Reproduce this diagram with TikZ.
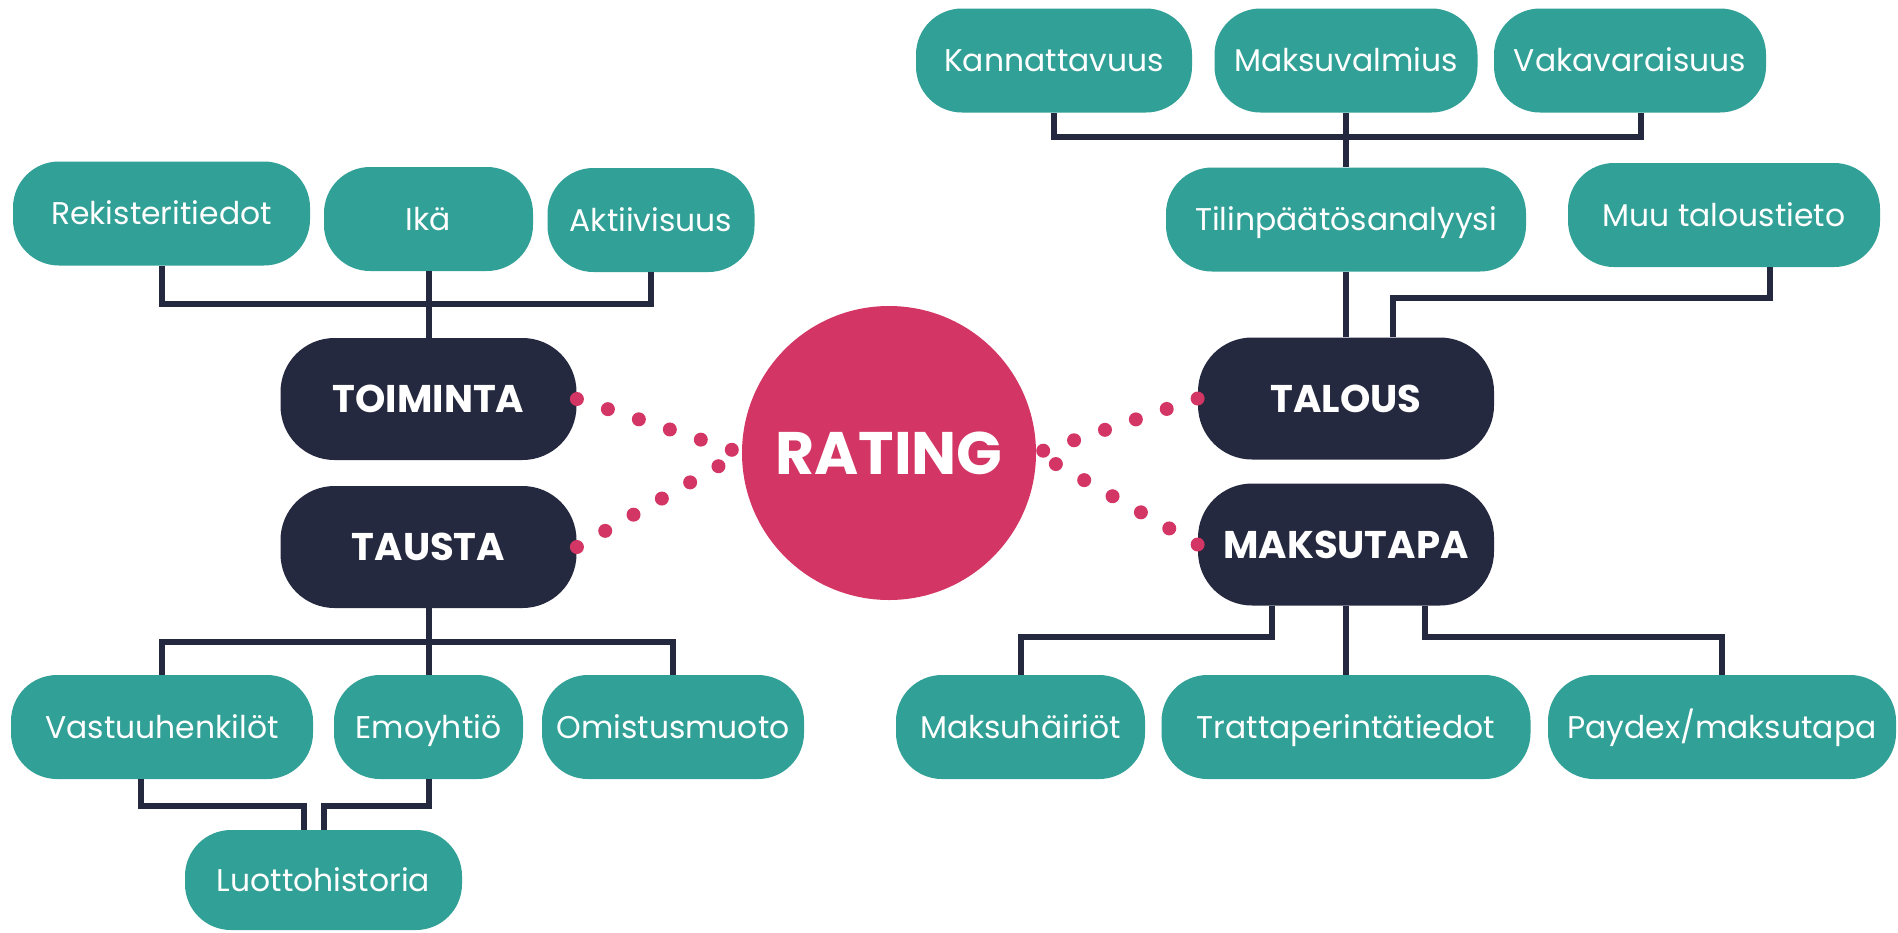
\documentclass[tikz,border=0pt]{standalone}
\usepackage{fontspec}
\setmainfont{Poppins}
\definecolor{tealbox}{RGB}{49,160,150}
\definecolor{navybox}{RGB}{37,41,64}
\definecolor{pinkdot}{RGB}{211,54,100}

\begin{document}
\begin{tikzpicture}[x=0.5pt, y=-0.5pt,
    leaf/.style={rectangle, fill=tealbox, text=white, rounded corners=23pt, inner sep=0pt,
        minimum height=52pt, text height=11pt, text depth=0pt, font=\fontsize{15.7}{18}\selectfont},
    hub/.style={rectangle, fill=navybox, text=white, rounded corners=27pt, inner sep=0pt,
        minimum width=148pt, minimum height=61pt, text height=13.5pt, text depth=0pt,
        font=\bfseries\fontsize{19.3}{22}\selectfont},
    link/.style={draw=navybox, line width=3pt},
    pinkdots/.style={draw=pinkdot, line width=7pt, line cap=round, dash pattern=on 0pt off 16.3pt}]
    \useasboundingbox (0,0) rectangle (1898,932);
    \node[leaf, minimum width=148.5pt] (reg) at (161.5,213.5) {Rekisteritiedot};
    \node[leaf, minimum width=104.5pt] (ika) at (428.5,219) {Ikä};
    \node[leaf, minimum width=103.5pt] (akt) at (651,220) {Aktiivisuus};
    \node[hub] (toim) at (428.5,399) {TOIMINTA};
    \node[hub] (taus) at (428.5,547) {TAUSTA};
    \node[leaf, minimum width=151pt] (vast) at (162,727) {Vastuuhenkilöt};
    \node[leaf, minimum width=94.5pt] (emo) at (428.5,727) {Emoyhtiö};
    \node[leaf, minimum width=131pt] (omis) at (673,727) {Omistusmuoto};
    \node[leaf, minimum width=138.5pt, minimum height=50pt] (luot) at (323.5,880) {Luottohistoria};
    \node[circle, fill=pinkdot, text=white, minimum size=147pt, inner sep=0pt, text height=21pt, text depth=0pt,
        font=\bfseries\fontsize{30}{34}\selectfont] (rating) at (889,453) {RATING};
    \node[leaf, minimum width=138pt] (kann) at (1054,60.5) {Kannattavuus};
    \node[leaf, minimum width=131.5pt] (maks) at (1346,60.5) {Maksuvalmius};
    \node[leaf, minimum width=136pt] (vaka) at (1630,60.5) {Vakavaraisuus};
    \node[leaf, minimum width=180pt] (tilin) at (1346,219.5) {Tilinpäätösanalyysi};
    \node[leaf, minimum width=156pt] (muu) at (1724,215) {Muu taloustieto};
    \node[hub] (talous) at (1346,398.5) {TALOUS};
    \node[hub] (maksutapa) at (1346,544.5) {MAKSUTAPA};
    \node[leaf, minimum width=124.5pt] (mhair) at (1020.5,727) {Maksuhäiriöt};
    \node[leaf, minimum width=184.5pt] (tratta) at (1346,727) {Trattaperintätiedot};
    \node[leaf, minimum width=174pt] (paydex) at (1722,727) {Paydex/maksutapa};
    \draw[link] (reg.south) -- ++(0,38) -| (akt.south);
    \draw[link] (ika) -- (toim);
    \draw[link] (taus) -- (emo);
    \draw[link] (vast.north) -- ++(0,-33) -| (omis.north);
    \draw[link] (vast.south) ++(-21,0) -- ++(0,27) -| ([xshift=-10pt]luot.north);
    \draw[link] (emo.south) -- ++(0,27) -| (luot.north);
    \draw[link] (kann.south) -- ++(0,24) -| ([xshift=5.5pt]vaka.south);
    \draw[link] (maks) -- (tilin);
    \draw[link] (tilin) -- (talous);
    \draw[link] ([xshift=23pt]muu.south) -- ++(0,31) -| ([xshift=23.5pt]talous.north);
    \draw[link] ([xshift=-37pt]maksutapa.south) -- ++(0,31) -| (mhair.north);
    \draw[link] (maksutapa) -- (tratta);
    \draw[link] ([xshift=39.5pt]maksutapa.south) -- ++(0,31) -| (paydex.north);
    \draw[pinkdots] (toim.east) -- (rating.west);
    \draw[pinkdots] (taus.east) -- (rating.west);
    \draw[pinkdots] (talous.west) -- (rating.east);
    \draw[pinkdots] (maksutapa.west) -- (rating.east);
\end{tikzpicture}
\end{document}
